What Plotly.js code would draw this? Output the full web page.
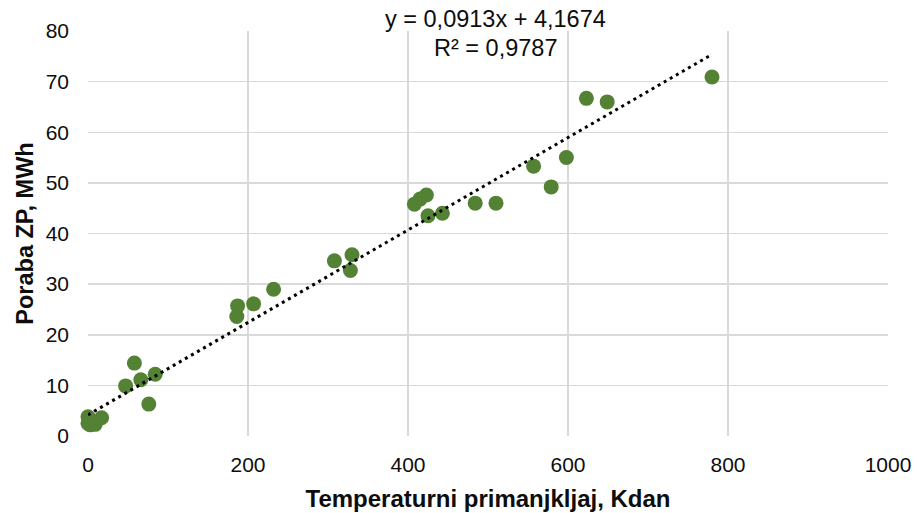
<!DOCTYPE html>
<html>
<head>
<meta charset="utf-8">
<script src="https://cdn.plot.ly/plotly-3.0.1.min.js"></script>
<style>html,body{margin:0;padding:0;background:#fff;}#chart{width:919px;height:513px;}</style>
</head>
<body>
<div id="chart"></div>
<script>
// Temperaturni primanjkljaj (Kdan)
const xValues = [0, 0, 3, 9, 17, 47, 58, 66, 76, 84,
  186, 187, 207, 232, 308, 328, 330,
  408, 415, 423, 425, 443, 484, 510, 557, 579, 598, 623, 649, 780];
// Poraba ZP (MWh)
const yValues = [3.8, 2.5, 2.2, 2.3, 3.6, 9.9, 14.4, 11.1, 6.3, 12.2,
  23.6, 25.7, 26.1, 29.0, 34.6, 32.7, 35.8,
  45.8, 46.8, 47.6, 43.5, 44.0, 46.0, 46.0, 53.3, 49.2, 55.0, 66.7, 66.0, 70.9];
// Excel linear trendline
const trendSlope = 0.0913;
const trendIntercept = 4.1674;
const rSquared = 0.9787;
const trendX = [0, 780];
const xTicks = [0, 200, 400, 600, 800, 1000];
const yTicks = [0, 10, 20, 30, 40, 50, 60, 70, 80];

const fmt = (v, d) => v.toFixed(d).replace('.', ',');
const trendY = trendX.map(x => trendSlope * x + trendIntercept);

const font = 'Liberation Sans, Arial, sans-serif';
const textColor = '#0d0d0d';

const traces = [
  {
    x: xValues, y: yValues, type: 'scatter', mode: 'markers',
    marker: {color: '#548235', size: 15, line: {width: 0}},
    hoverinfo: 'skip', cliponaxis: false
  },
  {
    x: trendX, y: trendY, type: 'scatter', mode: 'lines',
    line: {color: '#000000', width: 3, dash: '3px,4px'},
    hoverinfo: 'skip', cliponaxis: false
  }
];

const layout = {
  width: 919, height: 513,
  margin: {l: 88, r: 31, t: 31, b: 77},
  paper_bgcolor: '#ffffff', plot_bgcolor: '#ffffff',
  showlegend: false,
  font: {family: font, size: 21, color: textColor},
  xaxis: {
    range: [0, 1000], tickvals: xTicks, ticktext: xTicks.map(String),
    showgrid: true, gridcolor: '#d9d9d9', gridwidth: 1.5,
    zeroline: false, showline: false, ticks: '',
    ticklabelstandoff: 14,
    tickfont: {family: font, size: 21, color: textColor},
    title: {text: '<b>Temperaturni primanjkljaj, Kdan</b>', font: {family: font, size: 24, color: textColor}, standoff: 15}
  },
  yaxis: {
    range: [0, 80], tickvals: yTicks, ticktext: yTicks.map(String),
    showgrid: true, gridcolor: '#d9d9d9', gridwidth: 1.5,
    zeroline: false, showline: false, ticks: '',
    ticklabelstandoff: 18,
    tickfont: {family: font, size: 21, color: textColor},
    title: {text: '<b>Poraba ZP, MWh</b>', font: {family: font, size: 23.5, color: textColor}, standoff: 5}
  },
  annotations: [
    {
      xref: 'paper', yref: 'paper',
      x: (495.5 - 88) / 800, y: (436 - 19) / 405,
      text: 'y = ' + fmt(trendSlope, 4) + 'x + ' + fmt(trendIntercept, 4),
      showarrow: false, xanchor: 'center', yanchor: 'middle',
      font: {family: font, size: 23.5, color: textColor}
    },
    {
      xref: 'paper', yref: 'paper',
      x: (495.5 - 88) / 800, y: (436 - 48) / 405,
      text: 'R² = ' + fmt(rSquared, 4),
      showarrow: false, xanchor: 'center', yanchor: 'middle',
      font: {family: font, size: 23.5, color: textColor}
    }
  ]
};

Plotly.newPlot('chart', traces, layout, {staticPlot: true, displayModeBar: false});
</script>
</body>
</html>
